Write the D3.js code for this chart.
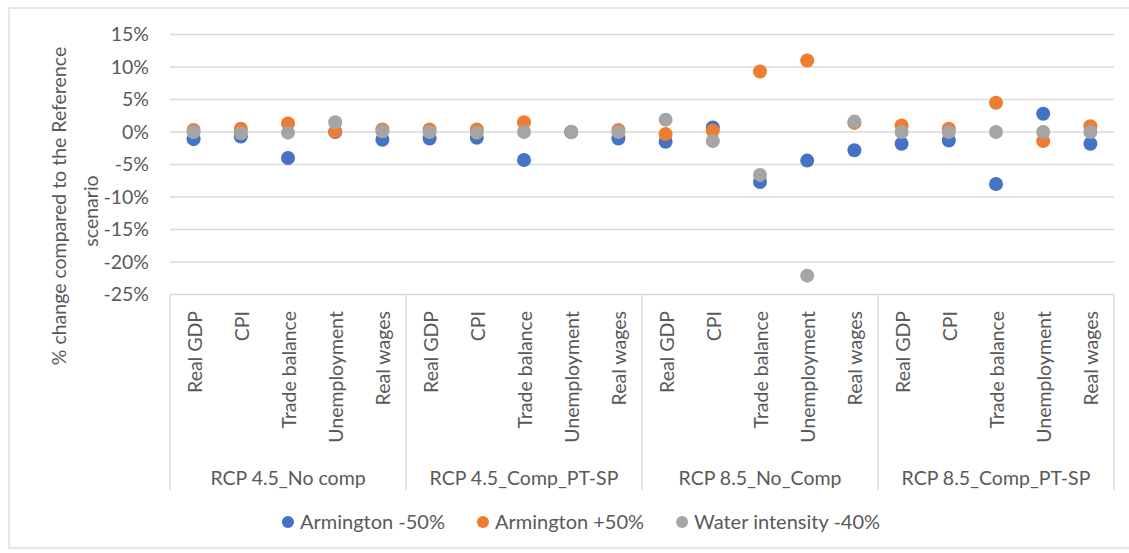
<!DOCTYPE html>
<html>
<head>
<meta charset="utf-8">
<script src="https://cdn.jsdelivr.net/npm/d3@7"></script>
<style>
  html, body { margin: 0; padding: 0; background: #ffffff; }
  svg { display: block; }
  text { font-family: Lato, "Open Sans", sans-serif; fill: #595959; }
</style>
</head>
<body>
<svg id="chart" width="1129" height="553"></svg>
<script>
// ---- Data ----
const groups = ["RCP 4.5_No comp", "RCP 4.5_Comp_PT-SP", "RCP 8.5_No_Comp", "RCP 8.5_Comp_PT-SP"];
const indicators = ["Real GDP", "CPI", "Trade balance", "Unemployment", "Real wages"];
const seriesNames = ["Armington -50%", "Armington +50%", "Water intensity -40%"];
const seriesColors = ["#4472C4", "#ED7D31", "#A5A5A5"];
// values in %, ordered group by group, indicator by indicator
const armingtonMinus50 = [-1.1, -0.7, -4.0, 0.0, -1.2,  -1.0, -0.9, -4.3, 0.0, -1.0,  -1.5, 0.7, -7.7, -4.4, -2.8,  -1.8, -1.3, -8.0, 2.8, -1.8];
const armingtonPlus50  = [0.3, 0.5, 1.3, 0.1, 0.4,  0.4, 0.4, 1.5, 0.0, 0.3,  -0.3, 0.2, 9.3, 11.0, 1.4,  1.0, 0.5, 4.5, -1.4, 0.9];
const waterIntensity40 = [0.0, -0.2, -0.1, 1.5, 0.1,  0.0, -0.1, 0.0, 0.0, 0.0,  1.9, -1.4, -6.6, -22.1, 1.6,  0.0, 0.0, 0.0, 0.0, 0.0];
const yTicks = [15, 10, 5, 0, -5, -10, -15, -20, -25];

// ---- Layout ----
const svg = d3.select("#chart");
const plot = { left: 170, right: 1114, top: 34.5, bottom: 294.5 };
const axisBottom = 490;
const textColor = "#595959";
const gridColor = "#D9D9D9";

// outer chart border
svg.append("rect")
  .attr("x", 9).attr("y", 8).attr("width", 1140).attr("height", 540)
  .attr("fill", "none").attr("stroke", "#D9D9D9").attr("stroke-width", 1.3);

const keys = [];
groups.forEach(g => indicators.forEach(c => keys.push(g + "|" + c)));

const x = d3.scaleBand().domain(keys).range([plot.left, plot.right]).padding(0);
const xGroup = d3.scaleBand().domain(groups).range([plot.left, plot.right]).padding(0);
const y = d3.scaleLinear().domain([-25, 15]).range([plot.bottom, plot.top]);

// gridlines
svg.append("g")
  .selectAll("line").data(yTicks).join("line")
  .attr("x1", plot.left).attr("x2", plot.right)
  .attr("y1", d => y(d)).attr("y2", d => y(d))
  .attr("stroke", gridColor).attr("stroke-width", 1.3);

// y axis labels
const yAxis = d3.axisLeft(y).tickValues(yTicks).tickFormat(d => d + "%").tickSize(0).tickPadding(0);
const yg = svg.append("g").attr("transform", `translate(${plot.left - 21},0)`).call(yAxis);
yg.select(".domain").remove();
yg.selectAll("text").attr("font-size", 19.5).attr("fill", textColor)
  .style("font-family", "Lato, sans-serif");

// y axis title (two lines, centred)
svg.append("text")
  .attr("transform", `translate(66,206) rotate(-90)`)
  .attr("text-anchor", "middle").attr("font-size", 19.5)
  .text("% change compared to the Reference");
svg.append("text")
  .attr("transform", `translate(98,211) rotate(-90)`)
  .attr("text-anchor", "middle").attr("font-size", 19.5)
  .text("scenario");

// category axis: separators
const sepX = groups.map(g => xGroup(g)).concat([plot.right]);
svg.append("g").selectAll("line").data(sepX).join("line")
  .attr("x1", d => d).attr("x2", d => d)
  .attr("y1", plot.bottom).attr("y2", axisBottom)
  .attr("stroke", gridColor).attr("stroke-width", 1.3);

// indicator labels
svg.append("g").selectAll("text").data(keys).join("text")
  .attr("transform", d => `translate(${x(d) + x.bandwidth() / 2 + 8},311) rotate(-90)`)
  .attr("text-anchor", "end").attr("font-size", 19.5)
  .text(d => d.split("|")[1]);

// group labels
svg.append("g").selectAll("text").data(groups).join("text")
  .attr("x", d => xGroup(d) + xGroup.bandwidth() / 2)
  .attr("y", 485)
  .attr("text-anchor", "middle").attr("font-size", 19.5)
  .text(d => d);

// points
const allSeries = [armingtonMinus50, armingtonPlus50, waterIntensity40];
allSeries.forEach((vals, si) => {
  svg.append("g").selectAll("circle").data(vals).join("circle")
    .attr("cx", (d, i) => x(keys[i]) + x.bandwidth() / 2)
    .attr("cy", d => y(d))
    .attr("r", 7)
    .attr("fill", seriesColors[si]);
});

// legend
const legend = svg.append("g");
const items = legend.selectAll("g").data(seriesNames).join("g");
items.append("circle").attr("r", 6).attr("cx", 6).attr("cy", 0)
  .attr("fill", (d, i) => seriesColors[i]);
items.append("text").attr("x", 18).attr("y", 7).attr("font-size", 20).text(d => d);
const widths = [];
items.each(function () {
  const w = 18 + d3.select(this).select("text").node().getComputedTextLength();
  widths.push(w);
});
const gap = 32;
const total = d3.sum(widths) + gap * (widths.length - 1);
let start = 581 - total / 2;
items.attr("transform", (d, i) => {
  const tx = start;
  start += widths[i] + gap;
  return `translate(${tx},522)`;
});
</script>
</body>
</html>
